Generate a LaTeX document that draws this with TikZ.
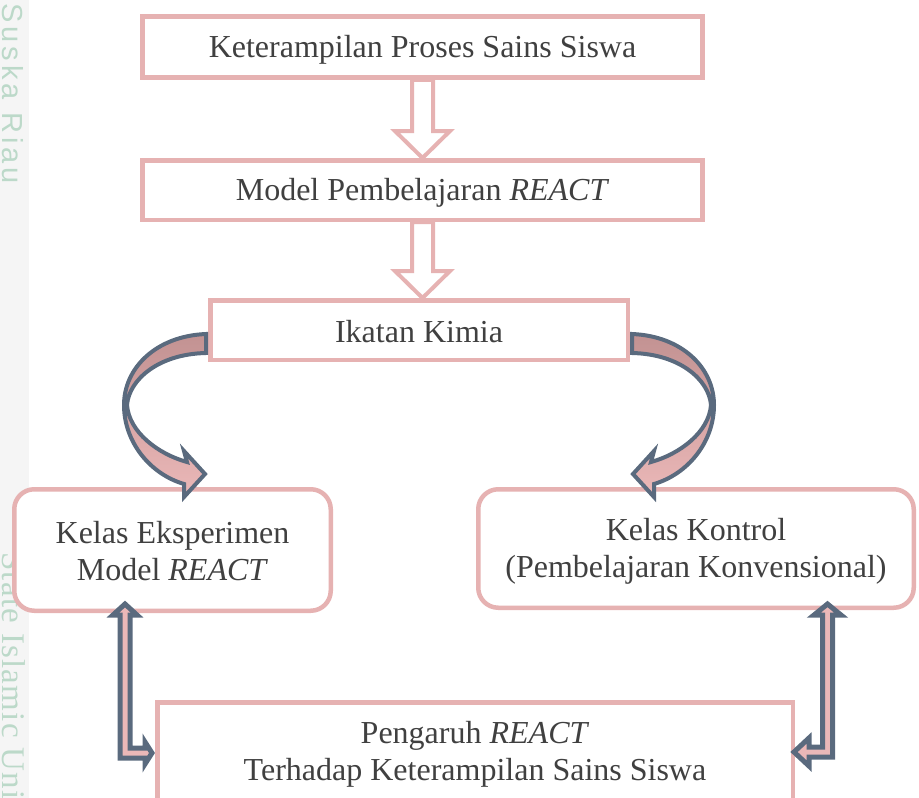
\documentclass[tikz,border=0pt]{standalone}
\usepackage{fontspec}
\setmainfont{Liberation Serif}
\newfontfamily\wmsans[LetterSpace=14]{Liberation Sans}
\newfontfamily\wmserif[LetterSpace=4]{Liberation Serif}
\usetikzlibrary{calc}
\definecolor{boxpink}{HTML}{E6B2B2}
\definecolor{arrowblue}{HTML}{5A6A7E}
\definecolor{darkpink}{HTML}{C29292}
\definecolor{lightpink}{HTML}{EBB8B8}
\definecolor{txt}{HTML}{404040}
\definecolor{wmgreen}{HTML}{BCD9C9}
\definecolor{wmgray}{HTML}{F5F5F5}
\newcommand\ls{\rule[-4pt]{0pt}{32pt}}
\newcommand\blockdown[2]{\path[blockarrow] let \p1=(#1), \p2=(#2) in
  (\x1-10.5pt,\y1) -- (\x1+10.5pt,\y1) -- (\x1+10.5pt,\y2+27pt) -- (\x1+27.5pt,\y2+27pt)
  -- (\x1,\y2) -- (\x1-27.5pt,\y2+27pt) -- (\x1-10.5pt,\y2+27pt) -- cycle;}
\begin{document}
\begin{tikzpicture}[x=1pt,y=-1pt,
  box/.style={draw=boxpink, line width=4.5pt, fill=white, text=txt,
    font=\fontsize{32}{37}\selectfont, align=center, inner sep=0pt},
  rbox/.style={box, rounded corners=20pt},
  blockarrow/.style={draw=boxpink, line width=4pt, fill=white, line join=miter},
  curvearrow/.style={draw=arrowblue, line width=4pt, top color=darkpink,
    bottom color=lightpink, line join=miter},
  elbowarrow/.style={draw=arrowblue, line width=5pt, fill=lightpink, line join=miter},
  wm/.style={text=wmgreen, rotate=-90, anchor=base west, inner sep=0pt},
  lbl/.style={text=txt, font=\fontsize{32}{37}\selectfont, align=center, inner sep=0pt}]
\useasboundingbox (0,0) rectangle (919,798);
\fill[wmgray] (0,0) rectangle (29,798);
\node[wm, font=\wmsans\fontsize{29}{29}\selectfont] (wmone) at (2,3) {Suska Riau};
\node[wm, font=\wmserif\fontsize{33}{33}\selectfont] (wmtwo) at (2,552) {State Islamic Uni};

\node[box, minimum width=560pt, minimum height=61pt] (kps) at (422.5,47) {\ls Keterampilan Proses Sains Siswa};
\node[box, minimum width=560pt, minimum height=59.5pt] (model) at (422.5,190) {\ls Model Pembelajaran \textit{REACT}};
\node[box, minimum width=417.5pt, minimum height=59.5pt] (ikatan) at (419,330) {\ls Ikatan Kimia};
\node[rbox, minimum width=316.5pt, minimum height=121.5pt] (eksp) at (172.5,550) {\ls Kelas Eksperimen\\\ls Model \textit{REACT}};
\node[rbox, minimum width=435.5pt, minimum height=118.5pt] (kontrol) at (696,548.5) {\ls Kelas Kontrol\\\ls (Pembelajaran Konvensional)};
\node[box, minimum width=635.5pt, minimum height=125pt] (pengaruh) at (475,765) {};
\node[lbl] (pengaruhtext) at (475,751.5) {\ls Pengaruh \textit{REACT}\\\ls Terhadap Keterampilan Sains Siswa};

\blockdown{kps.south}{model.north}
\blockdown{model.south}{ikatan.north}

\begin{scope}[shift={(ikatan.west)}]
\path[curvearrow] (-2,4) .. controls (-52,6) and (-84,38) .. (-84,75)
  .. controls (-84,112) and (-58,144) .. (-24,154) -- (-24,167) -- (-3,144) -- (-24,121) -- (-21,132)
  .. controls (-50,124) and (-79,102) .. (-81,75) .. controls (-79,50) and (-50,24) .. (-2,23) -- cycle;
\end{scope}
\begin{scope}[shift={(ikatan.east)}]
\path[curvearrow] (2,4) .. controls (52,6) and (84,38) .. (84,75)
  .. controls (84,112) and (58,144) .. (24,154) -- (24,167) -- (3,144) -- (24,121) -- (21,132)
  .. controls (50,124) and (79,102) .. (81,75) .. controls (79,50) and (50,24) .. (2,23) -- cycle;
\end{scope}

\path[elbowarrow] (125,604) -- (137,615) -- (130,615) -- (130,748) -- (145,748) -- (145,742)
  -- (152,753) -- (145,764) -- (145,758) -- (120,758) -- (120,615) -- (113,615) -- cycle;
\path[elbowarrow] (827.5,604) -- (841,615) -- (832.5,615) -- (832.5,757) -- (809,757) -- (809,766)
  -- (794,752) -- (809,738) -- (809,747) -- (822.5,747) -- (822.5,615) -- (814,615) -- cycle;
\end{tikzpicture}
\end{document}
